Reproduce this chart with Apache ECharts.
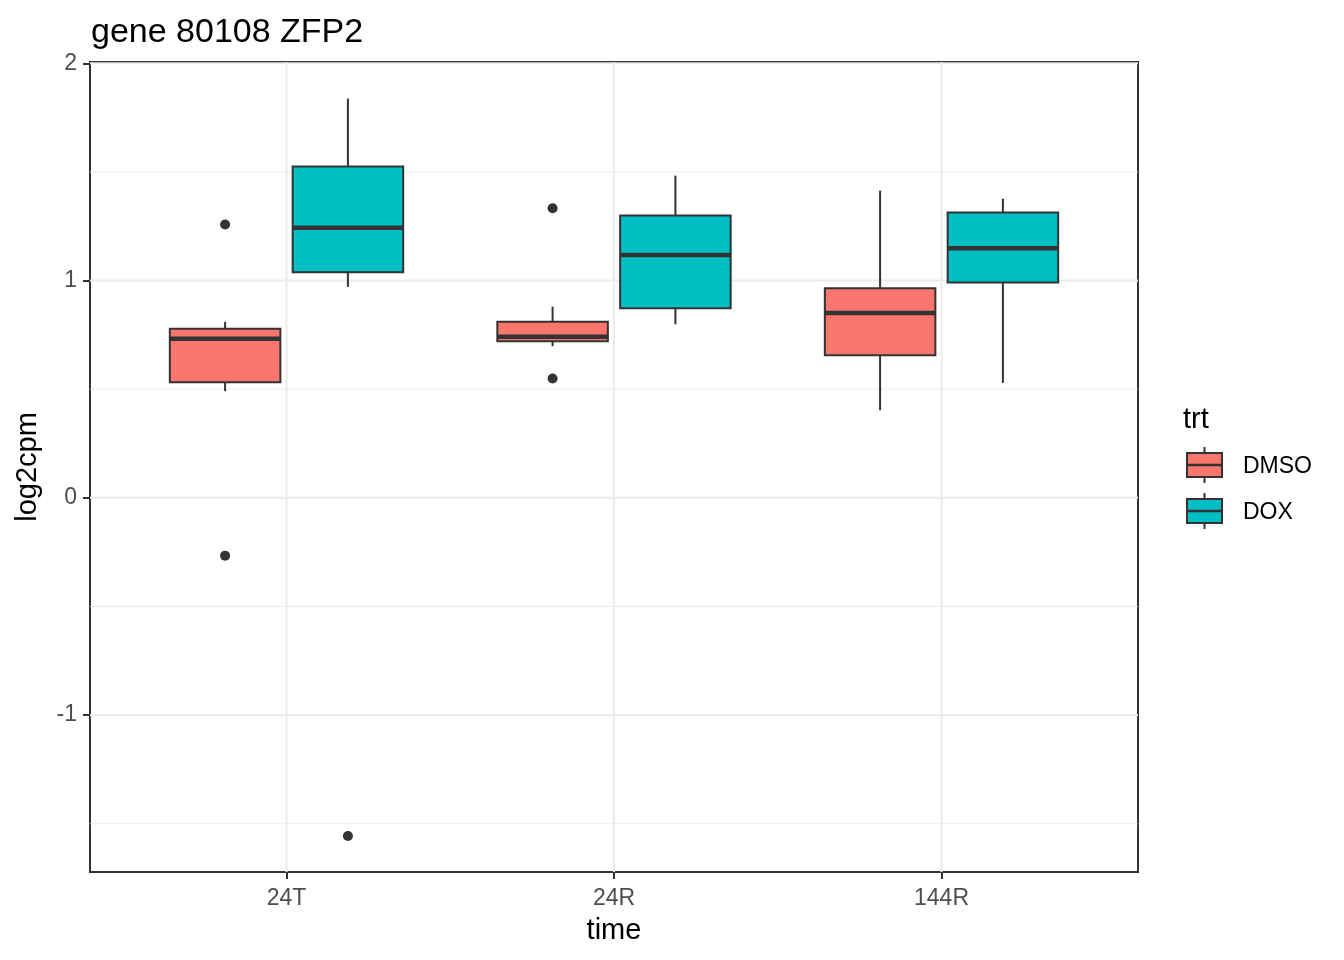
<!DOCTYPE html>
<html><head><meta charset="utf-8">
<script src="https://cdn.jsdelivr.net/npm/echarts@6/dist/echarts.min.js"></script>
<style>html,body{margin:0;padding:0;background:#fff}#chart{width:1344px;height:960px}</style>
</head><body><div id="chart"></div>
<script>
// ---- data ----
const times = ['24T', '24R', '144R'];
const treatments = ['DMSO', 'DOX'];
// [lower whisker, Q1, median, Q3, upper whisker] per time
const dmsoStats = [
  [0.491, 0.532, 0.732, 0.778, 0.810],
  [0.698, 0.721, 0.741, 0.811, 0.880],
  [0.403, 0.656, 0.851, 0.965, 1.414]
];
const doxStats = [
  [0.971, 1.038, 1.243, 1.525, 1.838],
  [0.799, 0.873, 1.118, 1.299, 1.483],
  [0.529, 0.991, 1.149, 1.313, 1.377]
];
// [time index, value]
const dmsoOutliers = [[0, 1.258], [0, -0.266], [1, 1.333], [1, 0.549]];
const doxOutliers = [[0, -1.556]];
const yMajorBreaks = [-1, 0, 1, 2];
const yMinorBreaks = [-1.5, -0.5, 0.5, 1.5];
const yRange = [-1.722, 2.006];

// ---- styling / layout ----
const trtColors = ['#F8766D', '#00BFC4'];
const dodgeOffsets = [-0.1875, 0.1875];
const boxWidth = 0.3375;
const FONT = 'Liberation Sans, Arial, sans-serif';
const INK = '#333333';

const statsByTrt = [dmsoStats, doxStats];
const outByTrt = [dmsoOutliers, doxOutliers];
const xPos = (ti, k) => ti + 1 + dodgeOffsets[k];

function renderBox(color) {
  return function (params, api) {
    const x = api.value(0);
    const h = boxWidth / 2;
    const xl = api.coord([x - h, 0])[0];
    const xr = api.coord([x + h, 0])[0];
    const xc = api.coord([x, 0])[0];
    const ylw = api.coord([x, api.value(1)])[1];
    const yq1 = api.coord([x, api.value(2)])[1];
    const ymed = api.coord([x, api.value(3)])[1];
    const yq3 = api.coord([x, api.value(4)])[1];
    const yuw = api.coord([x, api.value(5)])[1];
    const st = { stroke: INK, lineWidth: 2 };
    return {
      type: 'group', children: [
        { type: 'line', shape: { x1: xc, y1: yq3, x2: xc, y2: yuw }, style: st },
        { type: 'line', shape: { x1: xc, y1: yq1, x2: xc, y2: ylw }, style: st },
        { type: 'rect', shape: { x: xl, y: yq3, width: xr - xl, height: yq1 - yq3 }, style: { fill: color, stroke: INK, lineWidth: 2 } },
        { type: 'line', shape: { x1: xl, y1: ymed, x2: xr, y2: ymed }, style: { stroke: INK, lineWidth: 4.5 } }
      ]
    };
  };
}

function hLines(width) {
  return function (params, api) {
    const cs = params.coordSys;
    const y = api.coord([1, api.value(1)])[1];
    return { type: 'line', shape: { x1: cs.x, y1: y, x2: cs.x + cs.width, y2: y }, style: { stroke: '#EBEBEB', lineWidth: width } };
  };
}
function vLines(width) {
  return function (params, api) {
    const cs = params.coordSys;
    const x = api.coord([api.value(0), 0])[0];
    return { type: 'line', shape: { x1: x, y1: cs.y, x2: x, y2: cs.y + cs.height }, style: { stroke: '#EBEBEB', lineWidth: width } };
  };
}

const series = [
  { type: 'custom', z: 1, silent: true, renderItem: hLines(1), data: yMinorBreaks.map(v => [1, v]), encode: { x: 0, y: 1 } },
  { type: 'custom', z: 1, silent: true, renderItem: hLines(2), data: yMajorBreaks.map(v => [1, v]), encode: { x: 0, y: 1 } },
  { type: 'custom', z: 1, silent: true, renderItem: vLines(2), data: times.map((t, i) => [i + 1, 0]), encode: { x: 0, y: 1 } }
];
treatments.forEach((trt, k) => {
  series.push({
    type: 'custom', name: trt, z: 3,
    renderItem: renderBox(trtColors[k]),
    encode: { x: 0, y: [1, 2, 3, 4, 5] },
    data: statsByTrt[k].map((s, ti) => [xPos(ti, k)].concat(s))
  });
});
treatments.forEach((trt, k) => {
  series.push({
    type: 'scatter', name: trt + ' outliers', z: 4,
    symbol: 'circle', symbolSize: 10,
    itemStyle: { color: INK, opacity: 1 },
    data: outByTrt[k].map(o => [xPos(o[0], k), o[1]])
  });
});

// legend drawn as graphics
const legendGraphics = [
  { type: 'text', left: 1183, top: 405, style: { text: 'trt', font: '29px ' + FONT, fill: '#000' } }
];
treatments.forEach((trt, k) => {
  const cy = 465 + k * 46;
  legendGraphics.push(
    { type: 'line', shape: { x1: 1204.5, y1: cy - 18, x2: 1204.5, y2: cy + 18 }, style: { stroke: INK, lineWidth: 2 } },
    { type: 'rect', shape: { x: 1187, y: cy - 12, width: 35, height: 24 }, style: { fill: trtColors[k], stroke: INK, lineWidth: 2 } },
    { type: 'line', shape: { x1: 1187, y1: cy, x2: 1222, y2: cy }, style: { stroke: INK, lineWidth: 2.5 } },
    { type: 'text', x: 1243, y: cy + 2, style: { text: trt, font: '23px ' + FONT, fill: '#000', verticalAlign: 'middle', align: 'left' } }
  );
});

const chart = echarts.init(document.getElementById('chart'));
chart.setOption({
  animation: false,
  backgroundColor: '#fff',
  textStyle: { fontFamily: FONT },
  title: { text: 'gene 80108 ZFP2', left: 86, top: 11, textStyle: { fontSize: 34, fontWeight: 'normal', color: '#000', fontFamily: FONT } },
  grid: { left: 90, top: 62, right: 206, bottom: 88, show: true, borderColor: INK, borderWidth: 2, backgroundColor: 'transparent' },
  xAxis: {
    type: 'value', min: 0.4, max: 3.6,
    name: 'time', nameLocation: 'middle', nameGap: 44,
    nameTextStyle: { fontSize: 29, color: '#000', fontFamily: FONT },
    axisLine: { show: true, onZero: false, lineStyle: { color: INK, width: 2 } },
    axisTick: { show: true, length: 7, lineStyle: { color: INK, width: 2 }, customValues: [1, 2, 3] },
    axisLabel: { customValues: [1, 2, 3], formatter: v => times[Math.round(v) - 1] || '', fontSize: 23, color: '#4D4D4D', margin: 15, fontFamily: FONT },
    splitLine: { show: false }
  },
  yAxis: {
    type: 'value', min: yRange[0], max: yRange[1],
    name: 'log2cpm', nameLocation: 'middle', nameGap: 48,
    nameTextStyle: { fontSize: 29, color: '#000', fontFamily: FONT },
    axisLine: { show: true, onZero: false, lineStyle: { color: INK, width: 2 } },
    axisTick: { show: true, length: 7, lineStyle: { color: INK, width: 2 }, customValues: yMajorBreaks },
    axisLabel: { customValues: yMajorBreaks, formatter: v => String(v), fontSize: 23, color: '#4D4D4D', margin: 13, fontFamily: FONT },
    splitLine: { show: false }
  },
  graphic: legendGraphics,
  series: series
});
</script>
</body></html>
